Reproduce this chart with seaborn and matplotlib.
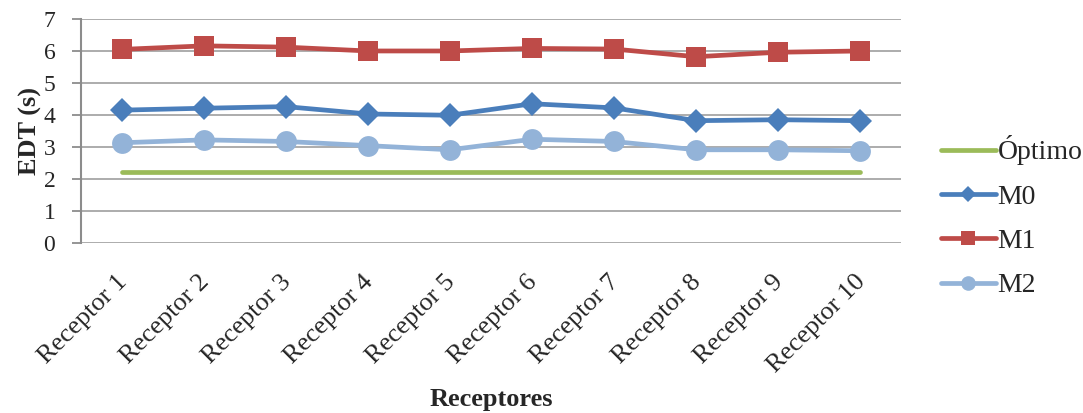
import pandas as pd
import seaborn as sns
import matplotlib.pyplot as plt
from matplotlib.transforms import ScaledTranslation

# Data
receptores = [f"Receptor {i}" for i in range(1, 11)]
optimo = [2.2] * 10
m0 = [4.15, 4.21, 4.26, 4.03, 3.99, 4.35, 4.22, 3.82, 3.85, 3.82]
m1 = [6.05, 6.16, 6.12, 6.00, 6.00, 6.08, 6.06, 5.82, 5.96, 6.00]
m2 = [3.13, 3.22, 3.17, 3.04, 2.91, 3.24, 3.17, 2.91, 2.91, 2.88]

series = {"Óptimo": optimo, "M0": m0, "M1": m1, "M2": m2}
styles = {
    "Óptimo": dict(color="#9BBB59", marker=None, markersize=0),
    "M0": dict(color="#4A7EBB", marker="D", markersize=12),
    "M1": dict(color="#BE4B48", marker="s", markersize=14),
    "M2": dict(color="#93B3D8", marker="o", markersize=15),
}

df = pd.DataFrame({"Receptor": receptores, **series})
long_df = df.melt(id_vars="Receptor", var_name="Serie", value_name="EDT")
long_df["x"] = long_df["Receptor"].map({r: i for i, r in enumerate(receptores)})

sns.set_style("white")
plt.rcParams["font.family"] = ["Liberation Serif", "DejaVu Serif"]

fig, ax = plt.subplots(figsize=(10.83, 4.13), dpi=100)
fig.subplots_adjust(left=0.0748, right=0.832, top=0.954, bottom=0.412)

for name in series:
    st = styles[name]
    sub = long_df[long_df["Serie"] == name]
    sns.lineplot(data=sub, x="x", y="EDT", ax=ax, label=name,
                 color=st["color"], linewidth=3.4,
                 marker=st["marker"], markersize=st["markersize"],
                 markeredgewidth=0, solid_capstyle="round",
                 sort=False, errorbar=None)

ax.set_xlim(-0.5, len(receptores) - 0.5)
ax.set_ylim(0, 7)
ax.set_yticks(range(0, 8))
ax.set_xticks(range(len(receptores)))
ax.set_xticklabels(receptores, rotation=45, ha="right", rotation_mode="anchor")
ax.tick_params(axis="x", length=0, labelsize=19, pad=20)
ax.tick_params(axis="y", length=6.5, width=1.3, color="#8C8C8C", labelsize=17,
               direction="out", left=True, pad=12)
shift = ScaledTranslation(-6 / 100, 0, fig.dpi_scale_trans)
for lab in ax.get_xticklabels():
    lab.set_transform(lab.get_transform() + shift)

ax.grid(axis="y", color="#A6A6A6", linewidth=1.3)
ax.set_axisbelow(True)
for s in ["top", "right", "bottom"]:
    ax.spines[s].set_visible(False)
ax.spines["left"].set_color("#8C8C8C")
ax.spines["left"].set_linewidth(1.5)

ax.set_xlabel("Receptores", fontsize=19, fontweight="bold", labelpad=8)
ax.set_ylabel("EDT (s)", fontsize=19, fontweight="bold", labelpad=1)

ax.legend(loc="center left", bbox_to_anchor=(0.848, 0.475),
          bbox_transform=fig.transFigure, frameon=False, fontsize=20,
          handlelength=2.0, handletextpad=0.05, labelspacing=0.68,
          markerscale=0.7, borderpad=0.3)

fig.savefig("out.png", dpi=100)
